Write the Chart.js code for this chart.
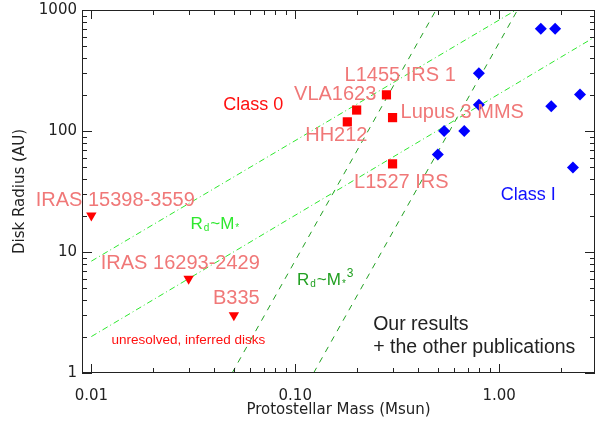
<!DOCTYPE html>
<html>
<head>
<meta charset="utf-8">
<script src="https://cdn.jsdelivr.net/npm/chart.js@4/dist/chart.umd.min.js"></script>
<style>
  body { margin: 0; background: #fff; }
  #wrap { width: 597px; height: 421px; }
</style>
</head>
<body>
<div id="wrap"><canvas id="diskChart" width="597" height="421"></canvas></div>
<script>
// Class 0 (resolved disks)
const class0Names = ['HH212', 'VLA1623', 'L1455 IRS 1', 'Lupus 3 MMS', 'L1527 IRS'];
const class0Mass = [0.18, 0.20, 0.28, 0.30, 0.30];
const class0Radius = [119, 149, 199, 129, 53.5];

// unresolved, inferred disks (upper limits)
const limitNames = ['IRAS 15398-3559', 'IRAS 16293-2429', 'B335'];
const limitMass = [0.01, 0.03, 0.05];
const limitRadius = [20, 6, 3];

// Class I
const classIMass = [1.60, 1.88, 0.795, 2.49, 0.795, 1.80, 0.537, 0.674, 0.50, 2.30];
const classIRadius = [700, 700, 300, 200, 165, 160, 100, 100, 64, 50];

// Rd ~ M lines
const linUpperMass = [0.01, 1.21];
const linUpperRadius = [8.4, 1000];
const linLowerMass = [0.01, 3.0];
const linLowerRadius = [2.0, 610];

// Rd ~ M^3 lines
const cubeLeftMass = [0.049, 0.49];
const cubeLeftRadius = [1, 1000];
const cubeRightMass = [0.123, 1.23];
const cubeRightRadius = [1, 1000];

// axis ticks
const xTickValues = [0.01, 0.1, 1];
const xTickLabels = ['0.01', '0.10', '1.00'];
const yTickValues = [1, 10, 100, 1000];
const yTickLabels = ['1', '10', '100', '1000'];
const minorSteps = [1, 2, 3, 4, 5, 6, 7, 8, 9];

const toPoints = (xs, ys) => xs.map((x, i) => ({ x: x, y: ys[i] }));

const SALMON = '#f07878';
const LIME = '#2ee82e';
const DKGREEN = '#22a022';

// text annotations placed in data coordinates
const notes = [
  { text: 'Class 0', x: 0.0622, y: 164, color: '#ff1010', size: 18 },
  { text: 'VLA1623', x: 0.157, y: 202, color: SALMON, size: 20 },
  { text: 'L1455 IRS 1', x: 0.327, y: 285, color: SALMON, size: 20 },
  { text: 'HH212', x: 0.159, y: 91, color: SALMON, size: 20 },
  { text: 'Lupus 3 MMS', x: 0.659, y: 141, color: SALMON, size: 20 },
  { text: 'L1527 IRS', x: 0.331, y: 37.9, color: SALMON, size: 20 },
  { text: 'Class I', x: 1.39, y: 29.6, color: '#1010ff', size: 18 },
  { text: 'IRAS 15398-3559', x: 0.0131, y: 26.9, color: SALMON, size: 20 },
  { text: 'IRAS 16293-2429', x: 0.0273, y: 8.11, color: SALMON, size: 20 },
  { text: 'B335', x: 0.0514, y: 4.09, color: SALMON, size: 20 },
  { text: 'unresolved, inferred disks', x: 0.0299, y: 1.87, color: '#ff1010', size: 13.5 },
  { text: 'Our results', x: 0.241, y: 2.49, color: '#222', size: 19.5, align: 'left' },
  { text: '+ the other publications', x: 0.241, y: 1.61, color: '#222', size: 19.5, align: 'left' }
];

const relationNotes = [
  { x: 0.0306, y: 17.0, color: LIME, parts: [['R', 17, 0], ['d', 10, 4], ['~M', 17, 0], ['*', 10, 4]] },
  { x: 0.102, y: 5.87, color: DKGREEN, parts: [['R', 17, 0], ['d', 10, 4], ['~M', 17, 0], ['*', 10, 4], ['3', 12, -6]] }
];

// IDL-style frame with inward ticks on all four sides
function drawFrameTicks(chart) {
  const ctx = chart.ctx;
  const a = chart.chartArea;
  const xs = chart.scales.x;
  const ys = chart.scales.y;
  const segs = [];
  [0.001, 0.01, 0.1, 1, 10, 100].forEach(base => {
    minorSteps.forEach(k => {
      const v = base * k;
      const major = k === 1;
      if (v >= xs.min * 0.999 && v <= xs.max * 1.001) {
        const px = Math.round(xs.getPixelForValue(v)) + 0.5;
        const len = major ? 9 : 5;
        segs.push([px, a.bottom, px, a.bottom - len]);
        segs.push([px, a.top, px, a.top + len]);
      }
      if (v >= ys.min * 0.999 && v <= ys.max * 1.001) {
        const py = Math.round(ys.getPixelForValue(v)) + 0.5;
        const len = major ? 10 : 5;
        segs.push([a.left, py, a.left + len, py]);
        segs.push([a.right, py, a.right - len, py]);
      }
    });
  });
  ctx.save();
  ctx.setLineDash([]);
  ctx.strokeStyle = '#222';
  ctx.lineWidth = 1;
  ctx.strokeRect(a.left + 0.5, a.top + 0.5, a.right - a.left - 1, a.bottom - a.top - 1);
  ctx.beginPath();
  segs.forEach(s => {
    ctx.moveTo(s[0], s[1]);
    ctx.lineTo(s[2], s[3]);
  });
  ctx.stroke();
  ctx.restore();
}

const annotatePlugin = {
  id: 'annotate',
  afterDatasetsDraw(chart) {
    const { ctx, scales: { x, y } } = chart;
    ctx.save();
    ctx.textBaseline = 'middle';
    notes.forEach(n => {
      ctx.font = n.size + 'px "Liberation Sans", Arial, sans-serif';
      ctx.fillStyle = n.color;
      ctx.textAlign = n.align || 'center';
      ctx.fillText(n.text, x.getPixelForValue(n.x), y.getPixelForValue(n.y));
    });
    relationNotes.forEach(r => {
      let px = x.getPixelForValue(r.x);
      const py = y.getPixelForValue(r.y);
      ctx.fillStyle = r.color;
      ctx.textAlign = 'left';
      r.parts.forEach(([t, s, dy]) => {
        ctx.font = s + 'px "Liberation Sans", Arial, sans-serif';
        ctx.fillText(t, px, py + dy);
        px += ctx.measureText(t).width + 1;
      });
    });
    ctx.restore();
    drawFrameTicks(chart);
  }
};

const axisFont = { family: '"DejaVu Sans", sans-serif', size: 15 };

new Chart(document.getElementById('diskChart'), {
  type: 'scatter',
  data: {
    datasets: [
      {
        label: 'Class 0',
        data: toPoints(class0Mass, class0Radius),
        pointStyle: 'rect',
        pointRadius: 6.5,
        backgroundColor: '#ff0000',
        borderColor: '#ff0000',
        borderWidth: 0
      },
      {
        label: 'Unresolved',
        data: toPoints(limitMass, limitRadius),
        pointStyle: 'triangle',
        rotation: 180,
        pointRadius: 6,
        backgroundColor: '#ff0000',
        borderColor: '#ff0000',
        borderWidth: 0
      },
      {
        label: 'Class I',
        data: toPoints(classIMass, classIRadius),
        pointStyle: 'rectRot',
        pointRadius: 6,
        backgroundColor: '#0000ff',
        borderColor: '#0000ff',
        borderWidth: 0
      },
      {
        type: 'line',
        data: toPoints(linUpperMass, linUpperRadius),
        borderColor: LIME, borderWidth: 1, borderDash: [6, 3, 1, 3],
        pointRadius: 0, fill: false
      },
      {
        type: 'line',
        data: toPoints(linLowerMass, linLowerRadius),
        borderColor: LIME, borderWidth: 1, borderDash: [6, 3, 1, 3],
        pointRadius: 0, fill: false
      },
      {
        type: 'line',
        data: toPoints(cubeLeftMass, cubeLeftRadius),
        borderColor: DKGREEN, borderWidth: 1, borderDash: [6, 6],
        pointRadius: 0, fill: false
      },
      {
        type: 'line',
        data: toPoints(cubeRightMass, cubeRightRadius),
        borderColor: DKGREEN, borderWidth: 1, borderDash: [6, 6],
        pointRadius: 0, fill: false
      }
    ]
  },
  options: {
    responsive: false,
    animation: false,
    layout: { autoPadding: false, padding: { top: 10, right: 2, left: 0, bottom: 0 } },
    plugins: { legend: { display: false }, tooltip: { enabled: false } },
    scales: {
      x: {
        type: 'logarithmic',
        min: 0.009,
        max: 2.95,
        grid: { display: false, drawTicks: false },
        border: { display: false },
        afterBuildTicks: s => { s.ticks = xTickValues.map(v => ({ value: v })); },
        afterFit: s => { s.height = 48; s.paddingLeft = 0; s.paddingRight = 0; },
        ticks: {
          autoSkip: false, maxRotation: 0, padding: 14,
          color: '#222', font: axisFont,
          callback: v => xTickLabels[xTickValues.indexOf(v)]
        },
        title: {
          display: true, text: 'Protostellar Mass (Msun)',
          color: '#222', font: axisFont, padding: { top: 0, bottom: 2 }
        }
      },
      y: {
        type: 'logarithmic',
        min: 1,
        max: 1000,
        grid: { display: false, drawTicks: false },
        border: { display: false },
        afterBuildTicks: s => { s.ticks = yTickValues.map(v => ({ value: v })); },
        afterFit: s => { s.width = 82; s.paddingTop = 0; s.paddingBottom = 0; },
        ticks: {
          autoSkip: false, padding: 5,
          color: '#222', font: axisFont,
          callback: v => yTickLabels[yTickValues.indexOf(v)]
        },
        title: {
          display: true, text: 'Disk Radius (AU)',
          color: '#222', font: axisFont, padding: { top: 11, bottom: 0 }
        }
      }
    }
  },
  plugins: [annotatePlugin]
});
</script>
</body>
</html>
